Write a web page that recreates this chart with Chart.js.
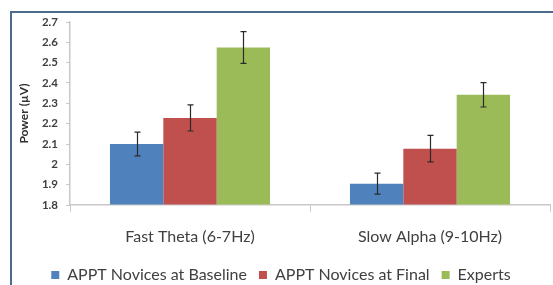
<!DOCTYPE html>
<html>
<head>
<meta charset="utf-8">
<script src="https://cdn.jsdelivr.net/npm/chart.js@4.4.1/dist/chart.umd.min.js"></script>
<style>
  html, body { margin: 0; padding: 0; background: #fff; }
  #wrap { position: relative; width: 553px; height: 285px; overflow: hidden; }
  #frame { position: absolute; left: 10px; top: 11px; width: 600px; height: 300px;
           border-left: 2px solid #4d6b8c; border-top: 2px solid #4d6b8c; }
  canvas { position: absolute; left: 0; top: 0; }
</style>
</head>
<body>
<div id="wrap">
  <div id="frame"></div>
  <canvas id="chart" width="553" height="285"></canvas>
</div>
<script>
  // Band names on the x axis
  const categories = ['Fast Theta (6-7Hz)', 'Slow Alpha (9-10Hz)'];

  // Mean power per group
  const baseline = [2.10, 1.905];
  const final = [2.228, 2.077];
  const experts = [2.575, 2.342];

  // Error bar half-heights
  const baselineErr = [0.058, 0.052];
  const finalErr = [0.064, 0.065];
  const expertsErr = [0.078, 0.06];

  // Y axis range
  const yMin = 1.8;
  const yMax = 2.7;
  const yStep = 0.1;

  const textFont = "Lato, 'Open Sans', sans-serif";

  // Draws the error bars on top of every bar
  const errorBars = {
    id: 'errorBars',
    afterDatasetsDraw(chart) {
      const ctx = chart.ctx;
      const yScale = chart.scales.y;
      ctx.save();
      ctx.strokeStyle = '#2a2a2a';
      ctx.lineWidth = 1.2;
      chart.data.datasets.forEach((ds, i) => {
        const meta = chart.getDatasetMeta(i);
        meta.data.forEach((bar, j) => {
          const v = ds.data[j];
          const e = ds.errors[j];
          const top = yScale.getPixelForValue(v + e);
          const bot = yScale.getPixelForValue(v - e);
          const x = Math.round(bar.x) + 0.5;
          ctx.beginPath();
          ctx.moveTo(x, top);
          ctx.lineTo(x, bot);
          ctx.moveTo(x - 3, top);
          ctx.lineTo(x + 3, top);
          ctx.moveTo(x - 3, bot);
          ctx.lineTo(x + 3, bot);
          ctx.stroke();
        });
      });
      ctx.restore();
    }
  };

  const ctx = document.getElementById('chart').getContext('2d');
  new Chart(ctx, {
    type: 'bar',
    data: {
      labels: categories,
      datasets: [
        { label: 'APPT Novices at Baseline', data: baseline, errors: baselineErr, backgroundColor: '#4f81bd' },
        { label: 'APPT Novices at Final', data: final, errors: finalErr, backgroundColor: '#c0504d' },
        { label: 'Experts', data: experts, errors: expertsErr, backgroundColor: '#9bbb59' },
      ],
    },
    options: {
      responsive: false,
      animation: false,
      layout: { padding: { top: 22, left: 12, right: 3, bottom: 0 } },
      datasets: {
        bar: { categoryPercentage: 0.667, barPercentage: 1.0, base: yMin }
      },
      plugins: {
        legend: {
          position: 'bottom',
          maxHeight: 30,
          labels: {
            boxWidth: 8,
            boxHeight: 8,
            padding: 12,
            color: '#404040',
            font: { family: textFont, size: 16 },
          },
        },
        tooltip: { enabled: false },
      },
      scales: {
        x: {
          afterFit(scale) { scale.height = 50; },
          grid: { display: true, drawOnChartArea: false, drawTicks: true, tickLength: 7, color: '#c8c8c8', offset: true },
          border: { color: '#c8c8c8', width: 1.5 },
          ticks: { color: '#404040', padding: 15, font: { family: textFont, size: 16 } },
        },
        y: {
          min: yMin,
          max: yMax,
          afterFit(scale) { scale.width = 58; },
          grid: { display: true, drawOnChartArea: false, drawTicks: true, tickLength: 4, color: '#c8c8c8' },
          border: { color: '#c8c8c8', width: 1.5 },
          ticks: {
            stepSize: yStep,
            color: '#404040',
            padding: 8,
            font: { family: textFont, size: 11.5, weight: 'bold' },
            callback: v => String(Number(v.toFixed(1))),
          },
          title: {
            display: true,
            text: 'Power (µV)',
            color: '#303030',
            padding: { top: 5, bottom: 0 },
            font: { family: textFont, size: 12, weight: 'bold' },
          },
        },
      },
    },
    plugins: [errorBars],
  });
</script>
</body>
</html>
